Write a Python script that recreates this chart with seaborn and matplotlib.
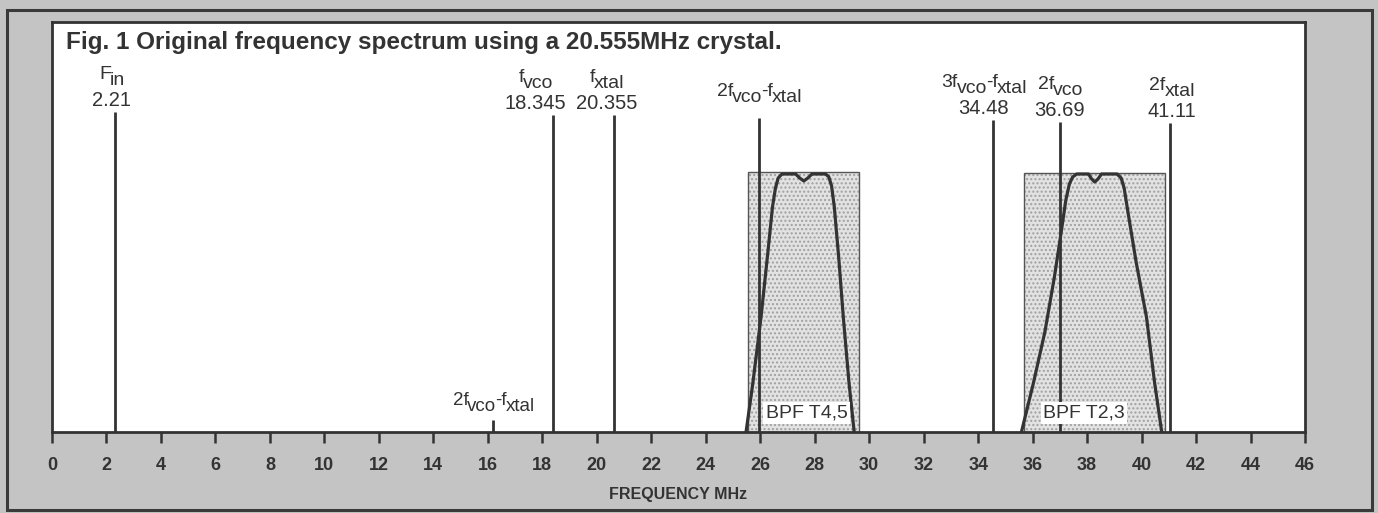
import numpy as np
import pandas as pd
import seaborn as sns
from matplotlib import pyplot as plt
from matplotlib import transforms
from matplotlib.patches import Rectangle

sns.set_style("white")
plt.rcParams['font.family'] = ['Liberation Sans', 'DejaVu Sans']

## DATA ##
# spectral lines: where they are drawn, how tall, and their labels
line_pos = [2.3, 18.4, 20.65, 25.95, 34.55, 37.0, 41.05]
line_height = [320, 317, 317, 314, 312, 310, 309]
# label parts: (text, lowered?) - printed as raised "f" and lower "vco"/"xtal"
line_names = [[('F', 0), ('in', 1)],
              [('f', 0), ('vco', 1)],
              [('f', 0), ('xtal', 1)],
              [('2f', 0), ('vco', 1), ('-f', 0), ('xtal', 1)],
              [('3f', 0), ('vco', 1), ('-f', 0), ('xtal', 1)],
              [('2f', 0), ('vco', 1)],
              [('2f', 0), ('xtal', 1)]]
line_values = ['2.21', '18.345', '20.355', '', '34.48', '36.69', '41.11']
label_x = [2.2, 17.75, 20.35, 25.95, 34.2, 37.0, 41.1]

# small spur near 16 MHz
spur_pos = 16.2
spur_height = 12
spur_name = [('2f', 0), ('vco', 1), ('-f', 0), ('xtal', 1)]

# band pass filter boxes
bpf_names = ['BPF T4,5', 'BPF T2,3']
bpf_left = [25.55, 35.7]
bpf_right = [29.63, 40.85]
bpf_top = [260, 259]
bpf_label_x = [27.7, 37.9]

# filter response curves
bpf1_freq = [25.48, 25.73, 26.03, 26.29, 26.45, 26.56, 26.66, 26.8, 27.3, 27.45, 27.6,
             27.75, 27.9, 28.4, 28.52, 28.62, 28.72, 28.88, 29.05, 29.26, 29.45]
bpf1_level = [0, 49, 115, 182, 225, 244, 254, 258, 258, 254, 251,
              254, 258, 258, 255, 246, 225, 175, 115, 49, 0]
bpf2_freq = [35.59, 36.03, 36.45, 36.8, 37.05, 37.22, 37.35, 37.47, 37.62, 38.05, 38.17,
             38.28, 38.4, 38.53, 39.1, 39.25, 39.36, 39.5, 39.8, 40.18, 40.48, 40.74]
bpf2_level = [0, 49, 100, 155, 200, 232, 248, 255, 258, 258, 253,
              250, 253, 258, 258, 254, 244, 220, 170, 115, 49, 0]

freq_ticks = list(range(0, 47, 2))

curves = pd.concat([
    pd.DataFrame({'freq': bpf1_freq, 'level': bpf1_level, 'filter': 'T4,5'}),
    pd.DataFrame({'freq': bpf2_freq, 'level': bpf2_level, 'filter': 'T2,3'}),
])

ink = '#333333'
DPI = 100

fig = plt.figure(figsize=(13.78, 5.13), dpi=DPI)
fig.patch.set_facecolor('#c4c4c4')
ax = fig.add_axes([52/1378, 1 - 432/513, (1305 - 52)/1378, 410/513])
ax.set_facecolor('white')
ax.set_xlim(0, 46)
ax.set_ylim(0, 410)
renderer = fig.canvas.get_renderer()


def part_label(x, y, parts, size, drop=4.0, squeeze=0.8):
    # draw "f" + lowered "vco" style labels piece by piece, centred on x
    widths = []
    for s, low in parts:
        t = ax.text(0, 0, s, fontsize=size)
        widths.append(t.get_window_extent(renderer).width * 72 / DPI - squeeze)
        t.remove()
    cursor = -sum(widths) / 2
    for (s, low), w in zip(parts, widths):
        tr = transforms.offset_copy(ax.transData, fig=fig, x=cursor, y=-drop * low,
                                    units='points')
        ax.text(x, y, s, transform=tr, ha='left', va='baseline', fontsize=size, color=ink)
        cursor += w


# filter boxes (stippled)
for l, r, t in zip(bpf_left, bpf_right, bpf_top):
    ax.add_patch(Rectangle((l, 0), r - l, t, facecolor='#e2e2e2', edgecolor='#a0a0a0',
                           hatch='....', linewidth=0, zorder=1))
    ax.add_patch(Rectangle((l, 0), r - l, t, fill=False, edgecolor='#555555',
                           linewidth=1.0, zorder=2))

sns.lineplot(data=curves, x='freq', y='level', units='filter', estimator=None,
             sort=False, color=ink, linewidth=2.3, ax=ax, zorder=3)

ax.vlines(line_pos, 0, line_height, color=ink, linewidth=2.0, zorder=4)
ax.vlines([spur_pos], 0, [spur_height], color=ink, linewidth=2.0, zorder=4)

# labels over the lines
for lx, h, name, val in zip(label_x, line_height, line_names, line_values):
    if val:
        ax.text(lx, h + 6, val, ha='center', va='baseline', fontsize=14.5, color=ink)
        part_label(lx, h + 33, name, 14)
    else:
        part_label(lx, h + 22, name, 14)

part_label(spur_pos, spur_height + 15, spur_name, 13.5)

for x, name in zip(bpf_label_x, bpf_names):
    ax.text(x, 19, name, ha='center', va='center', fontsize=14, color=ink,
            zorder=5, bbox=dict(facecolor='white', edgecolor='none', pad=1.5))

ax.text(0.011, 0.951, 'Fig. 1 Original frequency spectrum using a 20.555MHz crystal.',
        transform=ax.transAxes, ha='left', va='center', fontsize=17.5,
        fontweight='bold', color=ink)

ax.set_xticks(freq_ticks)
ax.set_xticklabels([str(t) for t in freq_ticks], fontsize=13, fontweight='bold', color=ink)
ax.set_yticks([])
ax.tick_params(axis='x', bottom=True, direction='out', length=8, width=1.8,
               color=ink, pad=10)
ax.set_xlabel('FREQUENCY MHz', fontsize=11.5, fontweight='bold', color=ink, labelpad=9)
ax.set_ylabel('')
for s in ax.spines.values():
    s.set_color(ink)
    s.set_linewidth(2.0)

# outer frame of the printed figure
fig.add_artist(Rectangle((7/1378, 3/513), 1365/1378, 500/513, transform=fig.transFigure,
                         fill=False, edgecolor='#3a3a3a', linewidth=2.2))

fig.savefig('out.png', dpi=DPI, facecolor=fig.get_facecolor())
